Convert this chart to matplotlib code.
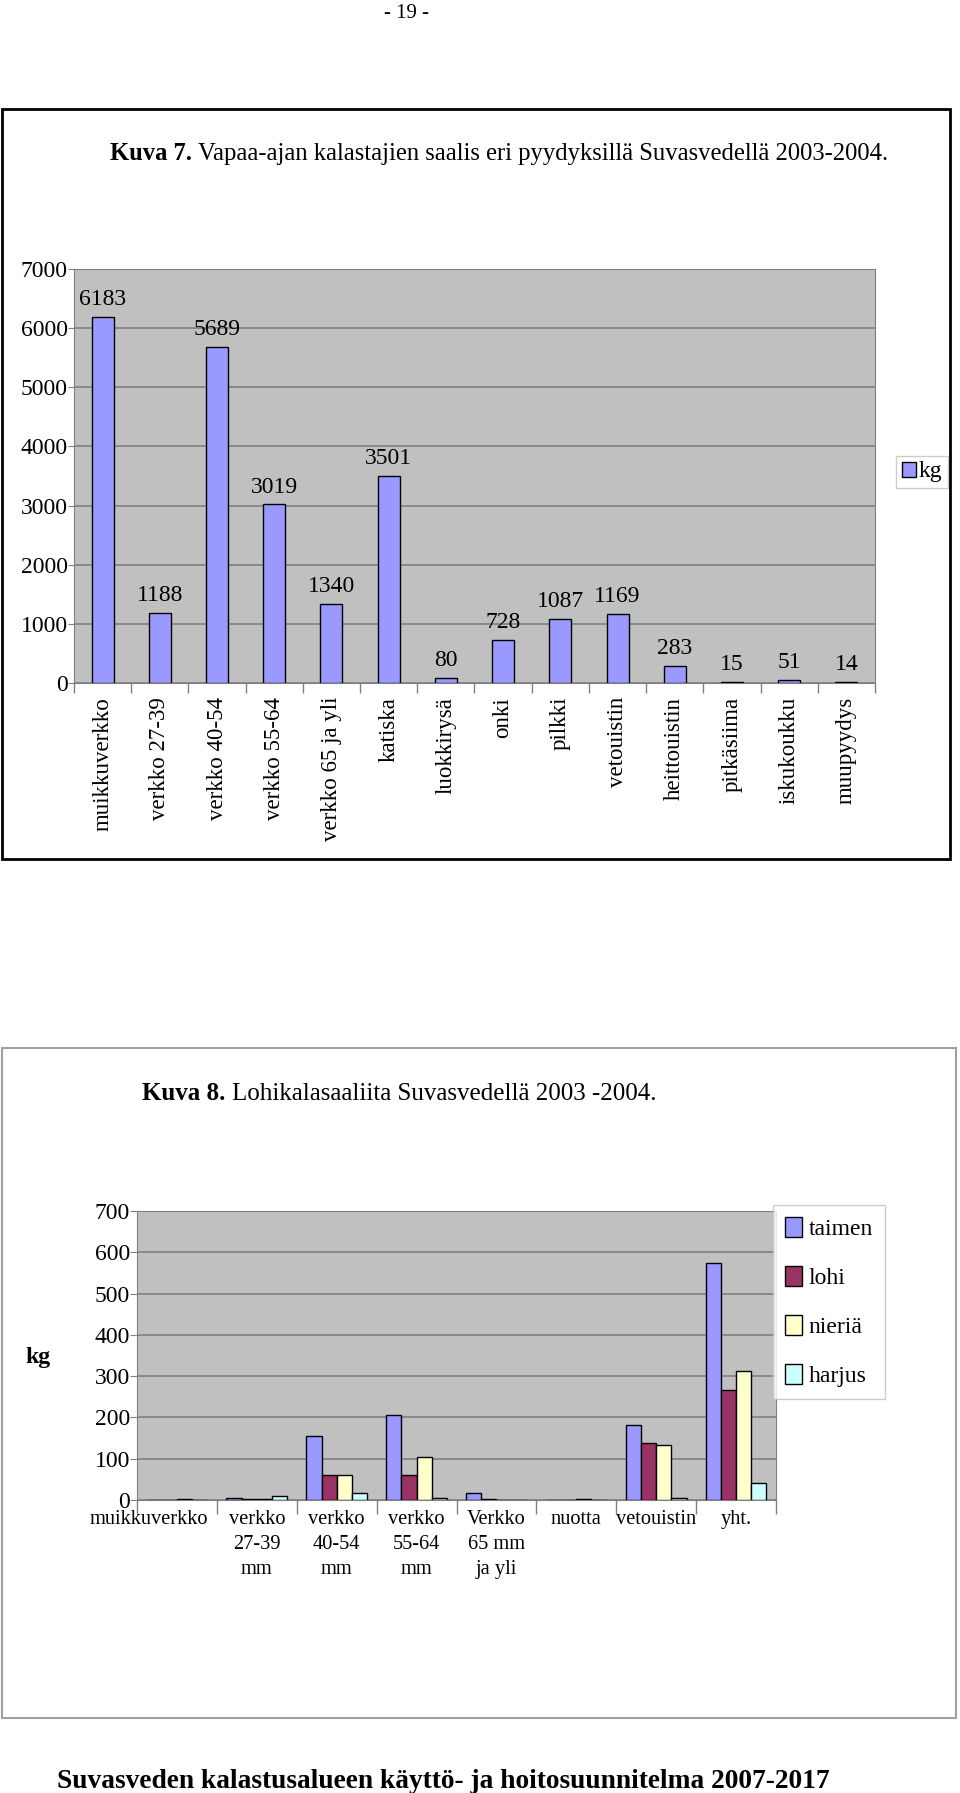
import matplotlib
matplotlib.use('Agg')
import matplotlib.pyplot as plt
from matplotlib.patches import Rectangle
from matplotlib.transforms import ScaledTranslation
import numpy as np

plt.rcParams['font.family'] = ['Liberation Serif', 'DejaVu Serif']

# Kuva 7 data
gear = ['muikkuverkko', 'verkko 27-39', 'verkko 40-54', 'verkko 55-64',
        'verkko 65 ja yli', 'katiska', 'luokkirysä', 'onki', 'pilkki',
        'vetouistin', 'heittouistin', 'pitkäsiima', 'iskukoukku', 'muupyydys']
kg = [6183, 1188, 5689, 3019, 1340, 3501, 80, 728, 1087, 1169, 283, 15, 51, 14]

# Kuva 8 data
gear2 = ['muikkuverkko', 'verkko\n27-39\nmm', 'verkko\n40-54\nmm', 'verkko\n55-64\nmm',
         'Verkko\n65 mm\nja yli', 'nuotta', 'vetouistin', 'yht.']
species = ['taimen', 'lohi', 'nieriä', 'harjus']
taimen = [0, 6, 154, 207, 18, 0, 181, 575]
lohi = [0, 2, 61, 61, 3, 0, 139, 267]
nieria = [3, 2, 61, 104, 0, 3, 134, 313]
harjus = [0, 10, 18, 6, 0, 0, 6, 42]
colors2 = ['#9999FF', '#993366', '#FFFFCC', '#CCFFFF']

W, H = 960, 1793
fig = plt.figure(figsize=(W / 100, H / 100), dpi=100)
renderer = fig.canvas.get_renderer()


def rect(l, t, r, b):
    return [l / W, 1 - b / H, (r - l) / W, (b - t) / H]


def frame(l, t, r, b, color, lw):
    fig.add_artist(Rectangle((l / W, 1 - b / H), (r - l) / W, (b - t) / H,
                             transform=fig.transFigure, fill=False,
                             edgecolor=color, linewidth=lw))


def text(x, y, s, **kw):
    return fig.text(x / W, 1 - y / H, s, **kw)


def caption(x, y, bold, rest, size):
    # bold figure number followed by normal text
    t = text(x, y, bold, ha='left', va='center', fontsize=size, fontweight='bold')
    w = t.get_window_extent(renderer=renderer).width
    text(x + w + size * 0.35, y, rest, ha='left', va='center', fontsize=size)


grid_c = '#808080'

# page number
text(406, 13, '- 19 -', ha='center', va='center', fontsize=15)

# ---------- Kuva 7 ----------
frame(2, 109, 950, 859, 'black', 2)
caption(110, 154, 'Kuva 7.',
        'Vapaa-ajan kalastajien saalis eri pyydyksillä Suvasvedellä 2003-2004.', 17.7)

ax1 = fig.add_axes(rect(74, 269, 875, 683))
x = np.arange(len(gear))
ax1.bar(x, kg, width=0.385, color='#9999FF', edgecolor='black',
        linewidth=1, label='kg', zorder=3)
ax1.set_facecolor('#C0C0C0')
ax1.set_xlim(-0.5, len(gear) - 0.5)
ax1.set_ylim(0, 7000)
ax1.set_yticks(np.arange(0, 7001, 1000))
ax1.yaxis.grid(True, color=grid_c, linewidth=1.2, zorder=0)
ax1.set_axisbelow(True)
ax1.set_xticks(x)
ax1.set_xticklabels(gear, rotation=90, fontsize=16.5, va='top')
ax1.set_xticks(np.arange(-0.5, len(gear), 1), minor=True)
ax1.tick_params(axis='x', which='major', length=0, pad=10)
ax1.tick_params(axis='x', which='minor', length=7, color=grid_c, width=1)
ax1.tick_params(axis='y', length=4, color=grid_c, pad=0.5, labelsize=17)
for s in ax1.spines.values():
    s.set_color(grid_c)
for i, v in enumerate(kg):
    ax1.annotate(str(v), (i, v), xytext=(0, 5), textcoords='offset points',
                 ha='center', va='bottom', fontsize=17)
ax1.legend(loc='center', bbox_to_anchor=(922 / W, 1 - 472 / H),
           bbox_transform=fig.transFigure, fontsize=17, frameon=True,
           fancybox=False, edgecolor='#C0C0C0', handlelength=0.6,
           handleheight=0.6, handletextpad=0.1, borderpad=0.25,
           borderaxespad=0)

# ---------- Kuva 8 ----------
frame(2, 1048, 956, 1718, '#A0A0A0', 1.5)
caption(142, 1094, 'Kuva 8.', 'Lohikalasaaliita Suvasvedellä 2003 -2004.', 18)

ax2 = fig.add_axes(rect(137, 1211, 776, 1500))
x2 = np.arange(len(gear2))
bw = 0.19
for k, (vals, c, name) in enumerate(zip([taimen, lohi, nieria, harjus], colors2, species)):
    ax2.bar(x2 + (k - 1.5) * bw, vals, width=bw, color=c, edgecolor='black',
            linewidth=1, label=name, zorder=3)
ax2.set_facecolor('#C0C0C0')
ax2.set_xlim(-0.5, len(gear2) - 0.5)
ax2.set_ylim(0, 700)
ax2.set_yticks(np.arange(0, 701, 100))
ax2.yaxis.grid(True, color=grid_c, linewidth=1.2, zorder=0)
ax2.set_axisbelow(True)
ax2.set_xticks(x2)
ax2.set_xticklabels(gear2, fontsize=14.7, va='top', ha='center', linespacing=1.45)
ax2.set_xticks(np.arange(-0.5, len(gear2), 1), minor=True)
ax2.tick_params(axis='x', which='major', length=0, pad=7)
ax2.tick_params(axis='x', which='minor', length=10, color=grid_c, width=1)
ax2.tick_params(axis='y', length=5, color=grid_c, pad=0, labelsize=17)
for s in ax2.spines.values():
    s.set_color(grid_c)
first = ax2.get_xticklabels()[0]
first.set_transform(first.get_transform() + ScaledTranslation(-28 / 100, 0, fig.dpi_scale_trans))
text(38, 1357, 'kg', ha='center', va='center', fontsize=17, fontweight='bold')
ax2.legend(loc='center', bbox_to_anchor=(829 / W, 1 - 1302 / H),
           bbox_transform=fig.transFigure, fontsize=17, frameon=True,
           fancybox=False, edgecolor='#C0C0C0', handlelength=0.72,
           handleheight=0.9, handletextpad=0.3, borderpad=0.5,
           labelspacing=1.1, borderaxespad=0)

# footer
text(57, 1782, 'Suvasveden kalastusalueen käyttö- ja hoitosuunnitelma 2007-2017',
     ha='left', va='center', fontsize=19.7, fontweight='bold')

fig.savefig('out.png', dpi=100)
plt.close(fig)
